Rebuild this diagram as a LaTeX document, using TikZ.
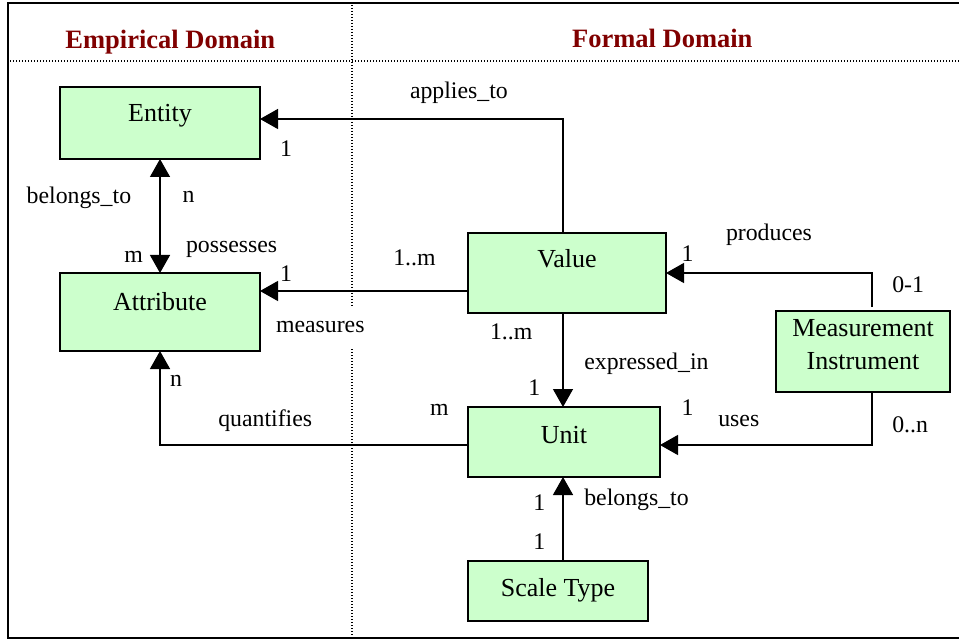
\documentclass[tikz,border=0pt]{standalone}
\usepackage{fontspec}
\setmainfont{Liberation Serif}
\usetikzlibrary{arrows.meta}
\definecolor{hdr}{RGB}{128,0,0}
\definecolor{boxfill}{RGB}{204,255,204}
\begin{document}
\begin{tikzpicture}[x=1pt,y=-1pt,
  every node/.style={font=\fontsize{23.8}{32.3}\selectfont, inner sep=0pt, outer sep=0pt},
  ebox/.style={draw=black, line width=1.6pt, fill=boxfill, align=center, font=\fontsize{26}{32.3}\selectfont},
  lbl/.style={anchor=base west},
  hdrtext/.style={anchor=base, text=hdr, font=\fontsize{26.5}{30}\selectfont\bfseries},
  conn/.style={line width=1.4pt},
  arr/.style={conn, -{Triangle[length=18pt,width=20pt]}},
  dbl/.style={conn, {Triangle[length=18pt,width=20pt]}-{Triangle[length=18pt,width=20pt]}},
  dotline/.style={line width=1.3pt, dash pattern=on 1.2pt off 1.8pt}
]
\useasboundingbox (0,0) rectangle (959,639);
% frame
\coordinate (ftr) at (959,3);
\coordinate (ftl) at (8,3);
\coordinate (fbl) at (8,638);
\coordinate (fbr) at (959,638);
\draw[line width=2pt] (ftr) -- (ftl) -- (fbl) -- (fbr);
% dotted separators
\coordinate (hl) at (10,61);
\coordinate (hr) at (959,61);
\draw[dotline] (hl) -- (hr);
\coordinate (v1) at (352,5);
\coordinate (v2) at (352,306);
\coordinate (v3) at (352,349);
\coordinate (v4) at (352,635);
\draw[dotline] (v1) -- (v2);
\draw[dotline] (v3) -- (v4);
% headers
\node[hdrtext] (hemp) at (170.3,49) {Empirical Domain};
\node[hdrtext] (hfor) at (662.3,47.7) {Formal Domain};
% boxes
\node[ebox, minimum width=200pt, minimum height=72pt, text height=10.7pt, text depth=13.3pt] (entity) at (160,123) {Entity};
\node[ebox, minimum width=200pt, minimum height=78pt, text height=10pt, text depth=14pt] (attribute) at (160,312) {Attribute};
\node[ebox, minimum width=198pt, minimum height=80pt, text height=7pt, text depth=17pt] (value) at (567,273) {Value};
\node[ebox, minimum width=192pt, minimum height=70pt, text height=13pt, text depth=11pt] (unit) at (564,442) {Unit};
\node[ebox, minimum width=180pt, minimum height=60pt, text height=17.7pt, text depth=6.3pt] (scale) at (558,591) {Scale Type};
\node[ebox, minimum width=174pt, minimum height=81pt, text height=41.5pt, text depth=6.5pt] (mi) at (863,351.5) {Measurement\\Instrument};
% connectors
\draw[dbl] (entity.south) -- (attribute.north);
\draw[arr] ([xshift=-4pt]value.north) |- ([yshift=4pt]entity.east);
\coordinate (vm) at ([yshift=-18pt]value.west);
\draw[arr] (vm) -- (vm -| attribute.east);
\draw[arr, shorten <=4pt] ([xshift=9pt]mi.north) |- (value.east);
\draw[arr] ([xshift=9pt]mi.south) |- ([yshift=-3pt]unit.east);
\draw[arr] ([xshift=-4pt]value.south) -- ([xshift=-4pt]value.south |- unit.north);
\draw[arr] ([yshift=-3pt]unit.west) -| (attribute.south);
\draw[arr] ([xshift=5pt]scale.north) -- ([xshift=5pt]scale.north |- unit.south);
% labels
\node[lbl] (l1) at (410,99) {applies\_to};
\node[lbl] (l2) at (280,157) {1};
\node[lbl] (l3) at (26.7,204) {belongs\_to};
\node[lbl] (l4) at (182.7,203) {n};
\node[lbl] (l5) at (124.3,262) {m};
\node[lbl] (l6) at (186,253) {possesses};
\node[lbl] (l7) at (280,282) {1};
\node[lbl] (l8) at (393.3,265.7) {1..m};
\node[lbl] (l9) at (276,332.7) {measures};
\node[lbl] (l10) at (170,386.7) {n};
\node[lbl] (l11) at (218.3,426.7) {quantifies};
\node[lbl] (l12) at (430,415) {m};
\node[lbl] (l13) at (681.7,261.7) {1};
\node[lbl] (l14) at (726,240.7) {produces};
\node[lbl] (l15) at (892.3,293) {0-1};
\node[lbl] (l16) at (490,339) {1..m};
\node[lbl] (l17) at (584.3,369) {expressed\_in};
\node[lbl] (l18) at (528.3,395) {1};
\node[lbl] (l19) at (681.7,415) {1};
\node[lbl] (l20) at (718.3,426.7) {uses};
\node[lbl] (l21) at (892.3,432.7) {0..n};
\node[lbl] (l22) at (533.3,510.7) {1};
\node[lbl] (l23) at (533.3,549) {1};
\node[lbl] (l24) at (584.3,505) {belongs\_to};
\end{tikzpicture}
\end{document}
